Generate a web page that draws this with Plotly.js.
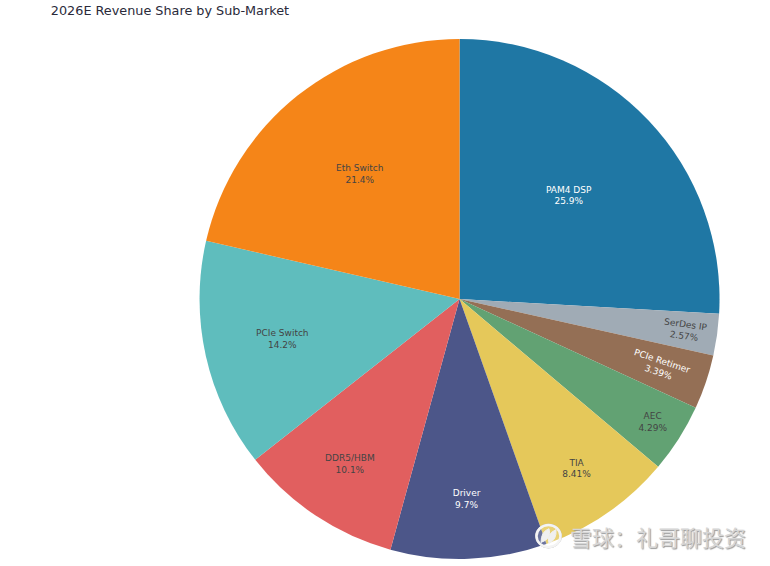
<!DOCTYPE html>
<html><head><meta charset="utf-8">
<script src="https://cdn.plot.ly/plotly-3.0.1.min.js"></script>
<style>html,body{margin:0;padding:0;background:#fff}</style></head>
<body><div id="c" style="width:770px;height:566px"></div>
<script>
const labels=["PAM4 DSP","SerDes IP","PCIe Retimer","AEC","TIA","Driver","DDR5/HBM","PCIe Switch","Eth Switch"];
const values=[25.9,2.57,3.39,4.29,8.41,9.7,10.1,14.2,21.4];
const colors=["#1f77a4","#a0abb5","#946f55","#62a273","#e5c85a","#4c5689","#e15f5f","#5fbdbd","#f58518"];
const titleText="2026E Revenue Share by Sub-Market";
const watermark="雪球：礼哥聊投资";
const W=770,H=566;
const px=(x)=>x/W, py=(y)=>1-y/H;
Plotly.newPlot("c",[{type:"pie",labels:labels,values:values,sort:false,direction:"clockwise",rotation:0,
 marker:{colors:colors},textinfo:"label+percent",textposition:"inside",insidetextorientation:"auto",
 textfont:{family:"DejaVu Sans, sans-serif",size:9},domain:{x:[0.2,0.9936],y:[0,1]}}],
 {width:W,height:H,showlegend:false,paper_bgcolor:"#fff",
  title:{text:titleText,x:0.066,xanchor:"left",y:0.982,yanchor:"middle",font:{family:"DejaVu Sans, sans-serif",size:12.8,color:"#2a2a3a"}},
  margin:{l:0,r:0,t:39,b:7},
  shapes:[
   {type:"circle",xref:"paper",yref:"paper",x0:px(535.5),x1:px(561.5),y0:py(554),y1:py(528),line:{color:"#b5b5b5",width:1},fillcolor:"rgba(255,255,255,0.18)"},
   {type:"circle",xref:"paper",yref:"paper",x0:px(536.5),x1:px(560.5),y0:py(553),y1:py(529),line:{color:"#f4f4f4",width:2.5}},
   {type:"path",xref:"paper",yref:"paper",path:"M "+px(541)+" "+py(548)+" Q "+px(541)+" "+py(536)+" "+px(549)+" "+py(533)+" Q "+px(552)+" "+py(544)+" "+px(541)+" "+py(548)+" Z",fillcolor:"#f0f0f0",line:{color:"#f0f0f0",width:1}},
   {type:"path",xref:"paper",yref:"paper",path:"M "+px(556)+" "+py(534)+" Q "+px(557)+" "+py(545)+" "+px(549)+" "+py(549)+" Q "+px(546)+" "+py(539)+" "+px(556)+" "+py(534)+" Z",fillcolor:"#f0f0f0",line:{color:"#f0f0f0",width:1}}
  ],
  annotations:[{text:watermark,x:px(748),y:py(541),xref:"paper",yref:"paper",xanchor:"right",yanchor:"middle",showarrow:false,
    font:{family:"Noto Sans CJK SC",size:22,color:"#d6d6d6",shadow:"1px 1px 1px #999"}}]},
 {displayModeBar:false});
</script></body></html>
